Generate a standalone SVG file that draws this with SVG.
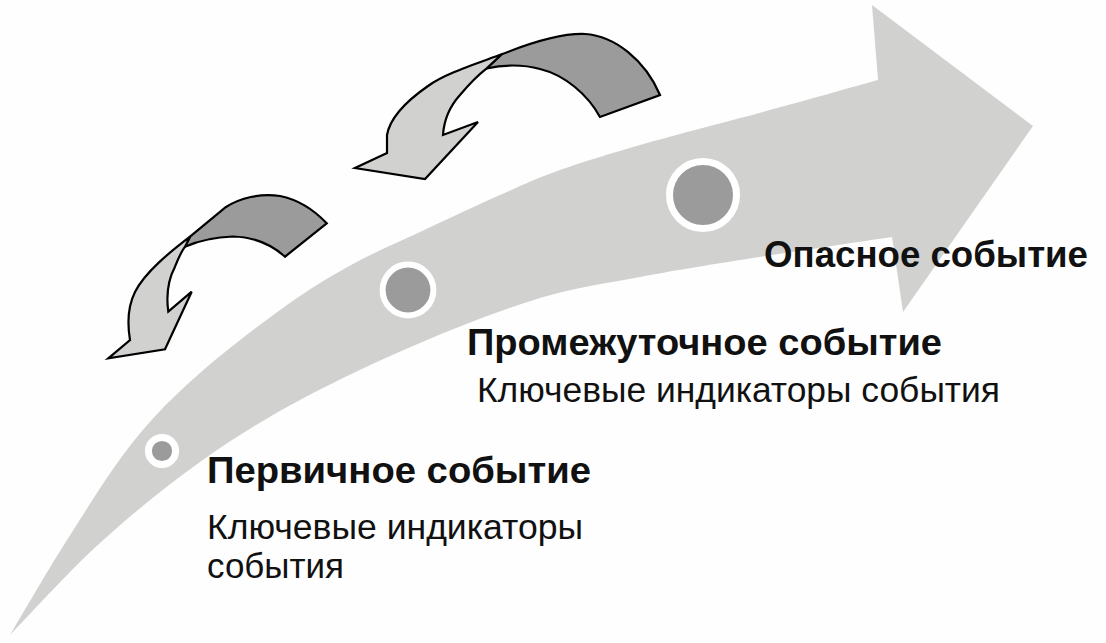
<svg xmlns="http://www.w3.org/2000/svg" width="1106" height="643" viewBox="0 0 1106 643">
<style>
.band{fill:#d1d2d0;stroke:none}
.face-dark{fill:#9b9b9b;stroke:#000;stroke-width:2.2;stroke-linejoin:miter}
.face-light{fill:#d1d2d0;stroke:#000;stroke-width:2.2;stroke-linejoin:miter}
.dot{fill:#9b9b9b;stroke:#fff}
.title{font-family:"Liberation Sans",Arial,sans-serif;font-weight:bold;font-size:37.5px;fill:#111}
.sub{font-family:"Liberation Sans",Arial,sans-serif;font-size:35px;fill:#111}
</style>
<rect x="0" y="0" width="1106" height="643" fill="#fefefe"/>
<g id="main-arrow">
<path class="band" d="M10,635 C19.5,619.2 46.5,572.2 67,540 C87.5,507.8 110.8,469.8 133,442 C155.2,414.2 174.3,395.8 200,373 C225.7,350.2 261.5,323.2 287,305 C312.5,286.8 330.8,276.2 353,264 C375.2,251.8 395.5,243.5 420,232 C444.5,220.5 476.7,205.3 500,195 C523.3,184.7 536.7,178.3 560,170 C583.3,161.7 610,153.7 640,145 C670,136.3 700.3,128.8 740,118 C779.7,107.8 855,86.3 878,80 L872,5 L1033,126 L903,312 L892,237 C866.7,240.8 782,253.3 740,260 C698,266.7 673.3,270.7 640,277 C606.7,283.3 576.7,287 540,298 C503.3,309 460,326 420,343 C380,360 336.7,380.2 300,400 C263.3,419.8 233.3,438.2 200,462 C166.7,485.8 131.7,514.2 100,543 C68.3,571.8 25,619.7 10,635 Z"/>
</g>
<g id="connectors">
<g id="feedback-upper">
<path class="face-dark" d="M501.7,54.3 C530,43 560,33 585,34 C615,36 645,60 660,95 L600,117 C588,95 565,75 540,69 C522,64 503,65 486.7,68.3 Z"/>
<path class="face-light" d="M501.7,54.3 C470,66 445,74 428,86 C405,102 390,118 387,135 L387,153 L355,168 L425,179 L478,122 L443,135 C444,120 450,106 460,95 C470,83 478,75 486.7,68.3 Z"/>
</g>
<g id="feedback-lower">
<path class="face-dark" d="M190,236.7 L226,207 C240,198 260,193 280,196 C300,200 315,211 326.7,223.3 L285,256.7 C272,245 255,237 233,236.5 C215,237 198,241 185,246.7 Z"/>
<path class="face-light" d="M190,236.7 C170,252 145,272 135,292 C128,306 127,322 130,340 L108.3,358.3 L165,349.3 L191.7,291.7 L168.3,311.7 C166,295 168,280 175,266.7 C178,259 181,252 185,246.7 Z"/>
</g>
</g>
<g id="event-primary">
<circle class="dot" cx="162" cy="451" r="13.6" stroke-width="7"/>
<text class="title" x="207" y="483" textLength="384" lengthAdjust="spacingAndGlyphs">Первичное событие</text>
<text class="sub" x="207" y="539" textLength="376" lengthAdjust="spacingAndGlyphs">Ключевые индикаторы</text>
<text class="sub" x="207" y="578" textLength="137" lengthAdjust="spacingAndGlyphs">события</text>
</g>
<g id="event-intermediate">
<circle class="dot" cx="408" cy="290" r="25.4" stroke-width="6"/>
<text class="title" x="467" y="355" textLength="475" lengthAdjust="spacingAndGlyphs">Промежуточное событие</text>
<text class="sub" x="477" y="402" textLength="523" lengthAdjust="spacingAndGlyphs">Ключевые индикаторы события</text>
</g>
<g id="event-dangerous">
<circle class="dot" cx="703" cy="195" r="33.5" stroke-width="7"/>
<text class="title" x="764" y="267" textLength="324" lengthAdjust="spacingAndGlyphs">Опасное событие</text>
</g>
</svg>
